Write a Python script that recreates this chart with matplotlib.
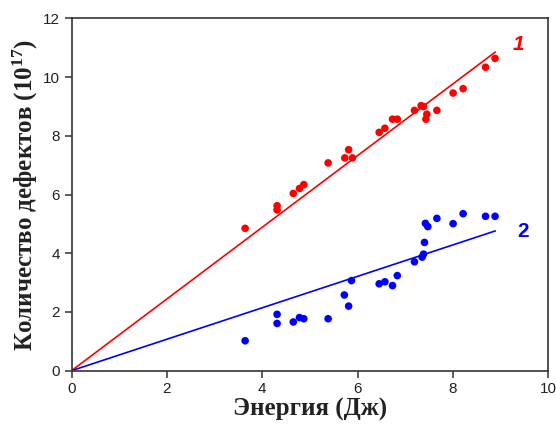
import matplotlib
matplotlib.use("Agg")
import matplotlib.pyplot as plt
import numpy as np

plt.rcParams["mathtext.fontset"] = "custom"
plt.rcParams["mathtext.rm"] = "Liberation Serif:bold"
plt.rcParams["mathtext.bf"] = "Liberation Serif:bold"
plt.rcParams["mathtext.it"] = "Liberation Serif:bold:italic"

# Data
red_x = [3.64, 4.31, 4.31, 4.65, 4.78, 4.87, 5.38, 5.73, 5.81, 5.89, 6.45, 6.57,
         6.73, 6.83, 7.19, 7.33, 7.38, 7.45, 7.43, 7.66, 8.00, 8.21, 8.68, 8.88]
red_y = [4.85, 5.62, 5.48, 6.04, 6.21, 6.34, 7.08, 7.25, 7.53, 7.25, 8.12, 8.26,
         8.57, 8.57, 8.87, 9.03, 9.00, 8.74, 8.57, 8.87, 9.46, 9.61, 10.34, 10.64]

blue_x = [3.64, 4.31, 4.31, 4.65, 4.78, 4.87, 5.38, 5.72, 5.81, 5.87, 6.45, 6.57,
          6.73, 6.83, 7.19, 7.35, 7.38, 7.40, 7.42, 7.47, 7.66, 8.00, 8.21, 8.68, 8.88]
blue_y = [1.02, 1.92, 1.61, 1.66, 1.81, 1.77, 1.77, 2.58, 2.20, 3.07, 2.96, 3.03,
          2.90, 3.24, 3.71, 3.87, 3.97, 4.37, 5.02, 4.91, 5.19, 5.01, 5.35, 5.26, 5.26]

red_slope = 1.222
blue_slope = 0.536
fit_x = [0, 8.88]

x_ticks = [0, 2, 4, 6, 8, 10]
y_ticks = [0, 2, 4, 6, 8, 10, 12]

RED = "#ff0000"
BLUE = "#0000ff"

fig = plt.figure(figsize=(5.56, 4.28), dpi=100)
ax = fig.add_axes([0.1286, 0.1339, 0.8579, 0.8229])

fx = np.array(fit_x)
ax.plot(fx, red_slope * fx, color=RED, lw=1.2, zorder=2)
ax.plot(fx, blue_slope * fx, color=BLUE, lw=1.2, zorder=2)
ax.scatter(red_x, red_y, s=30, color=RED, edgecolors="none", zorder=3)
ax.scatter(blue_x, blue_y, s=30, color=BLUE, edgecolors="none", zorder=3)

ax.text(9.37, 11.1, "1", color=RED, fontsize=15, fontweight="bold",
        fontstyle="italic", family="Liberation Sans", ha="center", va="center")
ax.text(9.47, 4.73, "2", color=BLUE, fontsize=15, fontweight="bold",
        family="Liberation Sans", ha="center", va="center")

ax.set_xlim(0, 10)
ax.set_ylim(0, 12)
ax.set_xticks(x_ticks)
ax.set_yticks(y_ticks)
ax.tick_params(direction="out", length=5, width=1.1, colors="#333333",
               labelsize=11, labelcolor="#222222")
for lab in ax.get_xticklabels() + ax.get_yticklabels():
    lab.set_family("Liberation Sans")
for sp in ax.spines.values():
    sp.set_linewidth(1.2)
    sp.set_color("#333333")

ax.set_xlabel("Энергия (Дж)", fontsize=18, fontweight="bold",
              family="Liberation Serif", color="#222222", labelpad=1)
ax.set_ylabel("Количество дефектов (10$^{17}$)", fontsize=18, fontweight="bold",
              family="Liberation Serif", color="#222222", labelpad=2)

fig.savefig("out.png", dpi=100)
